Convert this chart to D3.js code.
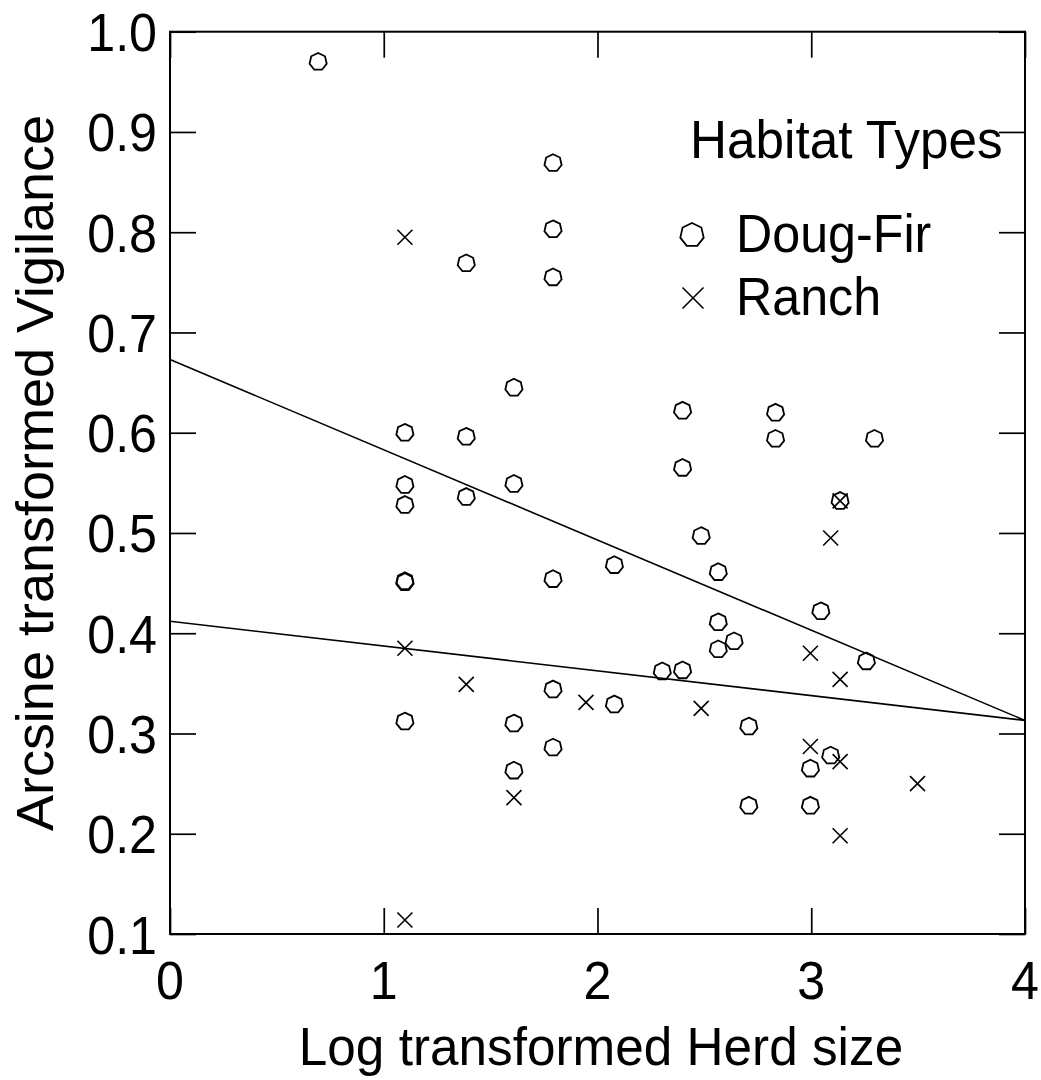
<!DOCTYPE html>
<html>
<head>
<meta charset="utf-8">
<script src="https://cdn.jsdelivr.net/npm/d3@7"></script>
<style>
  html, body { margin: 0; padding: 0; background: #fff; }
  svg { display: block; }
  text { font-family: "Liberation Sans", Arial, Helvetica, sans-serif; fill: #000; }
</style>
</head>
<body>
<svg id="chart" width="1041" height="1080"></svg>
<script>
// Doug-Fir observations: log herd size and arcsine-transformed vigilance
const dougFirX = [0.693, 1.099, 1.099, 1.099, 1.099, 1.099, 1.099, 1.386, 1.386, 1.386,
                  1.609, 1.609, 1.609, 1.609, 1.792, 1.792, 1.792, 1.792, 1.792, 1.792,
                  2.079, 2.079, 2.303, 2.398, 2.398, 2.398, 2.485, 2.565, 2.565, 2.565,
                  2.639, 2.708, 2.708, 2.833, 2.833, 2.996, 2.996, 3.045, 3.091, 3.135,
                  3.258, 3.296];
const dougFirY = [0.970, 0.600, 0.548, 0.528, 0.451, 0.452, 0.312, 0.769, 0.596, 0.536,
                  0.645, 0.549, 0.310, 0.263, 0.869, 0.803, 0.755, 0.454, 0.344, 0.286,
                  0.468, 0.329, 0.362, 0.622, 0.565, 0.363, 0.497, 0.461, 0.411, 0.384,
                  0.392, 0.307, 0.228, 0.620, 0.594, 0.265, 0.228, 0.422, 0.278, 0.532,
                  0.372, 0.594];

// Ranch observations
const ranchX = [1.099, 1.099, 1.099, 1.386, 1.609, 1.946, 2.485, 2.996, 2.996, 3.091,
                3.135, 3.135, 3.135, 3.135, 3.497];
const ranchY = [0.795, 0.385, 0.114, 0.349, 0.236, 0.331, 0.325, 0.380, 0.287, 0.495,
                0.532, 0.354, 0.272, 0.198, 0.250];

// Fitted regression lines (intercept, slope) per habitat
const fitNames = ["Doug-Fir", "Ranch"];
const fitIntercepts = [0.673, 0.412];
const fitSlopes = [-0.090, -0.02475];

// Axis ticks and labels
const xTicks = [0, 1, 2, 3, 4];
const yTicks = [0.1, 0.2, 0.3, 0.4, 0.5, 0.6, 0.7, 0.8, 0.9, 1.0];
const xTitle = "Log transformed Herd size";
const yTitle = "Arcsine transformed Vigilance";
const legendTitle = "Habitat Types";
const legendLabels = ["Doug-Fir", "Ranch"];

(function () {
  const svg = d3.select("#chart");
  const pL = 170, pR = 1025, pT = 31.7, pB = 934;
  const fontSize = 54;

  const x = d3.scaleLinear().domain([0, 4]).range([pL, pR]);
  const y = d3.scaleLinear().domain([0.1, 1.0]).range([pB, pT]);

  // heptagon marker, like the plotting program's open circle
  const heptagon = {
    draw(ctx, size) {
      const r = Math.sqrt(size / Math.PI);
      for (let i = 0; i < 7; i++) {
        const a = -Math.PI / 2 + i * 2 * Math.PI / 7;
        const px = r * Math.cos(a), py = r * Math.sin(a);
        if (i === 0) ctx.moveTo(px, py); else ctx.lineTo(px, py);
      }
      ctx.closePath();
    }
  };
  const crossPath = (h) => `M${-h},${-h}L${h},${h}M${-h},${h}L${h},${-h}`;

  // frame
  svg.append("rect")
    .attr("x", pL).attr("y", pT)
    .attr("width", pR - pL).attr("height", pB - pT)
    .attr("fill", "none").attr("stroke", "#000").attr("stroke-width", 2);

  // inward ticks on all four sides
  const tickLen = 26;
  const ax = svg.append("g");
  const axisB = d3.axisBottom(x).tickValues(xTicks).tickSize(tickLen).tickFormat("");
  const axisT = d3.axisTop(x).tickValues(xTicks).tickSize(tickLen).tickFormat("");
  const axisL = d3.axisLeft(y).tickValues(yTicks).tickSize(tickLen).tickFormat("");
  const axisR = d3.axisRight(y).tickValues(yTicks).tickSize(tickLen).tickFormat("");
  ax.append("g").attr("transform", `translate(0,${pB - tickLen})`).call(axisB);
  ax.append("g").attr("transform", `translate(0,${pT + tickLen})`).call(axisT);
  ax.append("g").attr("transform", `translate(${pL + tickLen},0)`).call(axisL);
  ax.append("g").attr("transform", `translate(${pR - tickLen},0)`).call(axisR);
  ax.selectAll(".domain").remove();
  ax.selectAll(".tick line").attr("stroke", "#000").attr("stroke-width", 1.7);

  // horizontally narrowed lettering
  const squeezedText = (parent, tx, ty, str, anchor, sq) =>
    parent.append("text")
      .attr("transform", `translate(${tx},${ty}) scale(${sq},1)`)
      .attr("text-anchor", anchor)
      .attr("font-size", fontSize)
      .text(str);

  const labels = svg.append("g");
  xTicks.forEach(v => squeezedText(labels, x(v), 999, d3.format("d")(v), "middle", 0.93));
  yTicks.forEach(v => squeezedText(labels, 157, y(v) + 19.5, d3.format(".1f")(v), "end", 0.93));

  // axis titles
  squeezedText(labels, 601, 1065, xTitle, "middle", 0.95);
  labels.append("text")
    .attr("transform", `translate(53,473) rotate(-90) scale(1,0.95)`)
    .attr("text-anchor", "middle")
    .attr("font-size", fontSize)
    .text(yTitle);

  // regression lines
  const lines = svg.append("g").attr("fill", "none").attr("stroke", "#000").attr("stroke-width", 1.6);
  const lineGen = d3.line().x(d => x(d[0])).y(d => y(d[1]));
  fitNames.forEach((name, i) => {
    const pts = [0, 4].map(v => [v, fitIntercepts[i] + fitSlopes[i] * v]);
    lines.append("path").attr("d", lineGen(pts));
  });

  // data markers
  const marks = svg.append("g").attr("fill", "none").attr("stroke", "#000").attr("stroke-width", 1.8);
  const circleSym = d3.symbol().type(heptagon).size(Math.PI * 8.8 * 8.8);
  marks.selectAll(".df").data(d3.range(dougFirX.length)).join("path")
    .attr("class", "df")
    .attr("transform", i => `translate(${x(dougFirX[i])},${y(dougFirY[i])})`)
    .attr("d", circleSym());
  marks.selectAll(".rn").data(d3.range(ranchX.length)).join("path")
    .attr("class", "rn")
    .attr("stroke-width", 1.6)
    .attr("transform", i => `translate(${x(ranchX[i])},${y(ranchY[i])})`)
    .attr("d", crossPath(7.5));

  // legend
  const lg = svg.append("g");
  squeezedText(lg, 690, 158, legendTitle, "start", 0.95);
  lg.append("path")
    .attr("transform", "translate(692,235)")
    .attr("d", d3.symbol().type(heptagon).size(Math.PI * 12 * 12)())
    .attr("fill", "none").attr("stroke", "#000").attr("stroke-width", 1.8);
  lg.append("path")
    .attr("transform", "translate(693,298)")
    .attr("d", crossPath(10.5))
    .attr("fill", "none").attr("stroke", "#000").attr("stroke-width", 1.6);
  squeezedText(lg, 736, 252, legendLabels[0], "start", 0.93);
  squeezedText(lg, 736, 315, legendLabels[1], "start", 0.93);
})();
</script>
</body>
</html>
